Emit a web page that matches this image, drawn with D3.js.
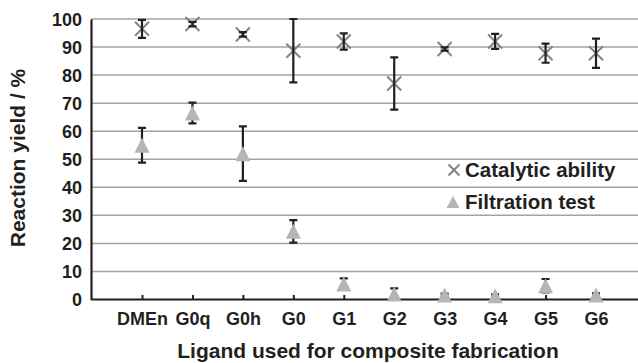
<!DOCTYPE html>
<html>
<head>
<meta charset="utf-8">
<script src="https://cdn.jsdelivr.net/npm/d3@7"></script>
<style>
  body { margin: 0; background: #fff; }
  text { font-family: "Liberation Sans", Arial, sans-serif; font-weight: bold; fill: #231f20; }
</style>
</head>
<body>
<script>
// data
var ligands = ["DMEn", "G0q", "G0h", "G0", "G1", "G2", "G3", "G4", "G5", "G6"];
var catalytic = [96.5, 98.2, 94.5, 88.7, 92.0, 77.0, 89.3, 92.0, 87.8, 87.8];
var catalyticErr = [3.2, 0.8, 0.8, 11.3, 2.9, 9.3, 0.6, 2.7, 3.4, 5.2];
var filtration = [55.0, 66.5, 52.0, 24.3, 5.5, 2.0, 1.6, 1.3, 4.9, 1.6];
var filtrationErr = [6.2, 3.7, 9.7, 4.0, 2.0, 2.0, 0.5, 0.5, 2.4, 0.6];
var yTicks = [0, 10, 20, 30, 40, 50, 60, 70, 80, 90, 100];

var width = 638, height = 363;
var plotLeft = 91, plotRight = 638, plotTop = 19, plotBottom = 299.5;

var svg = d3.select("body").append("svg")
    .attr("width", width)
    .attr("height", height);

var x = d3.scalePoint()
    .domain(ligands)
    .range([142, 596]);

var y = d3.scaleLinear()
    .domain([0, 100])
    .range([plotBottom, plotTop]);

//gridlines
svg.append("g")
    .selectAll("line")
    .data(yTicks.filter(function(d) { return d > 0; }))
    .enter().append("line")
    .attr("x1", plotLeft)
    .attr("x2", plotRight)
    .attr("y1", function(d) { return y(d); })
    .attr("y2", function(d) { return y(d); })
    .style("stroke", "#a3a3a3")
    .style("stroke-width", 1.5);

//y axis
var yAxis = svg.append("g")
    .attr("transform", "translate(" + plotLeft + ",0)")
    .call(d3.axisLeft(y).tickValues(yTicks).tickSize(0).tickPadding(9));
yAxis.select(".domain").style("stroke", "#231f20").style("stroke-width", 2.2);
yAxis.selectAll("text").style("font-size", "18px").style("font-family", null).attr("dy", "0.36em");

//x axis, ticks pointing up
var xAxis = svg.append("g")
    .attr("transform", "translate(0," + plotBottom + ")")
    .call(d3.axisBottom(x).tickSizeInner(-4.5).tickSizeOuter(0).tickPadding(13));
xAxis.select(".domain").attr("d", "M" + plotLeft + ",0H" + plotRight)
    .style("stroke", "#231f20").style("stroke-width", 2.2);
xAxis.selectAll(".tick line").style("stroke", "#231f20").style("stroke-width", 2);
xAxis.selectAll("text").style("font-size", "18px").style("font-family", null);

//marker shapes
var crossPath = function(s) {
    return "M" + (-s) + "," + (-s) + "L" + s + "," + s + "M" + (-s) + "," + s + "L" + s + "," + (-s);
};
var triPath = function(w, h) {
    return "M0," + (-h / 2) + "L" + (w / 2) + "," + (h / 2) + "L" + (-w / 2) + "," + (h / 2) + "Z";
};

var drawErrors = function(vals, errs) {
    var g = svg.append("g");
    ligands.forEach(function(c, i) {
        var cx = x(c), y1 = y(vals[i] + errs[i]), y2 = y(vals[i] - errs[i]);
        g.append("path")
            .attr("d", "M" + cx + "," + y1 + "V" + y2 +
                "M" + (cx - 4) + "," + y1 + "H" + (cx + 4) +
                "M" + (cx - 4) + "," + y2 + "H" + (cx + 4))
            .style("fill", "none")
            .style("stroke", "#231f20")
            .style("stroke-width", 2.2);
    });
};

//filtration test: bars behind triangles
drawErrors(filtration, filtrationErr);
svg.append("g").selectAll("path")
    .data(filtration)
    .enter().append("path")
    .attr("transform", function(d, i) { return "translate(" + x(ligands[i]) + "," + y(d) + ")"; })
    .attr("d", triPath(15, 15))
    .style("fill", "#b5b5b5");

//catalytic ability: crosses under the bars
svg.append("g").selectAll("path")
    .data(catalytic)
    .enter().append("path")
    .attr("transform", function(d, i) { return "translate(" + x(ligands[i]) + "," + y(d) + ")"; })
    .attr("d", crossPath(7))
    .style("fill", "none")
    .style("stroke", "#858585")
    .style("stroke-width", 2);
drawErrors(catalytic, catalyticErr);

//legend, no box: gridlines run through it
var legend = svg.append("g");
legend.append("path")
    .attr("transform", "translate(454,170)")
    .attr("d", crossPath(5.5))
    .style("fill", "none")
    .style("stroke", "#858585")
    .style("stroke-width", 2);
legend.append("text")
    .attr("x", 465).attr("y", 177)
    .style("font-size", "20.5px")
    .text("Catalytic ability");
legend.append("path")
    .attr("transform", "translate(453,202)")
    .attr("d", triPath(13, 12))
    .style("fill", "#b5b5b5");
legend.append("text")
    .attr("x", 465).attr("y", 209)
    .style("font-size", "20.5px")
    .text("Filtration test");

//axis titles
svg.append("text")
    .attr("x", 368).attr("y", 358)
    .attr("text-anchor", "middle")
    .style("font-size", "21px")
    .text("Ligand used for composite fabrication");

svg.append("text")
    .attr("transform", "translate(25,158) rotate(-90)")
    .attr("text-anchor", "middle")
    .style("font-size", "21px")
    .text("Reaction yield / %");
</script>
</body>
</html>
